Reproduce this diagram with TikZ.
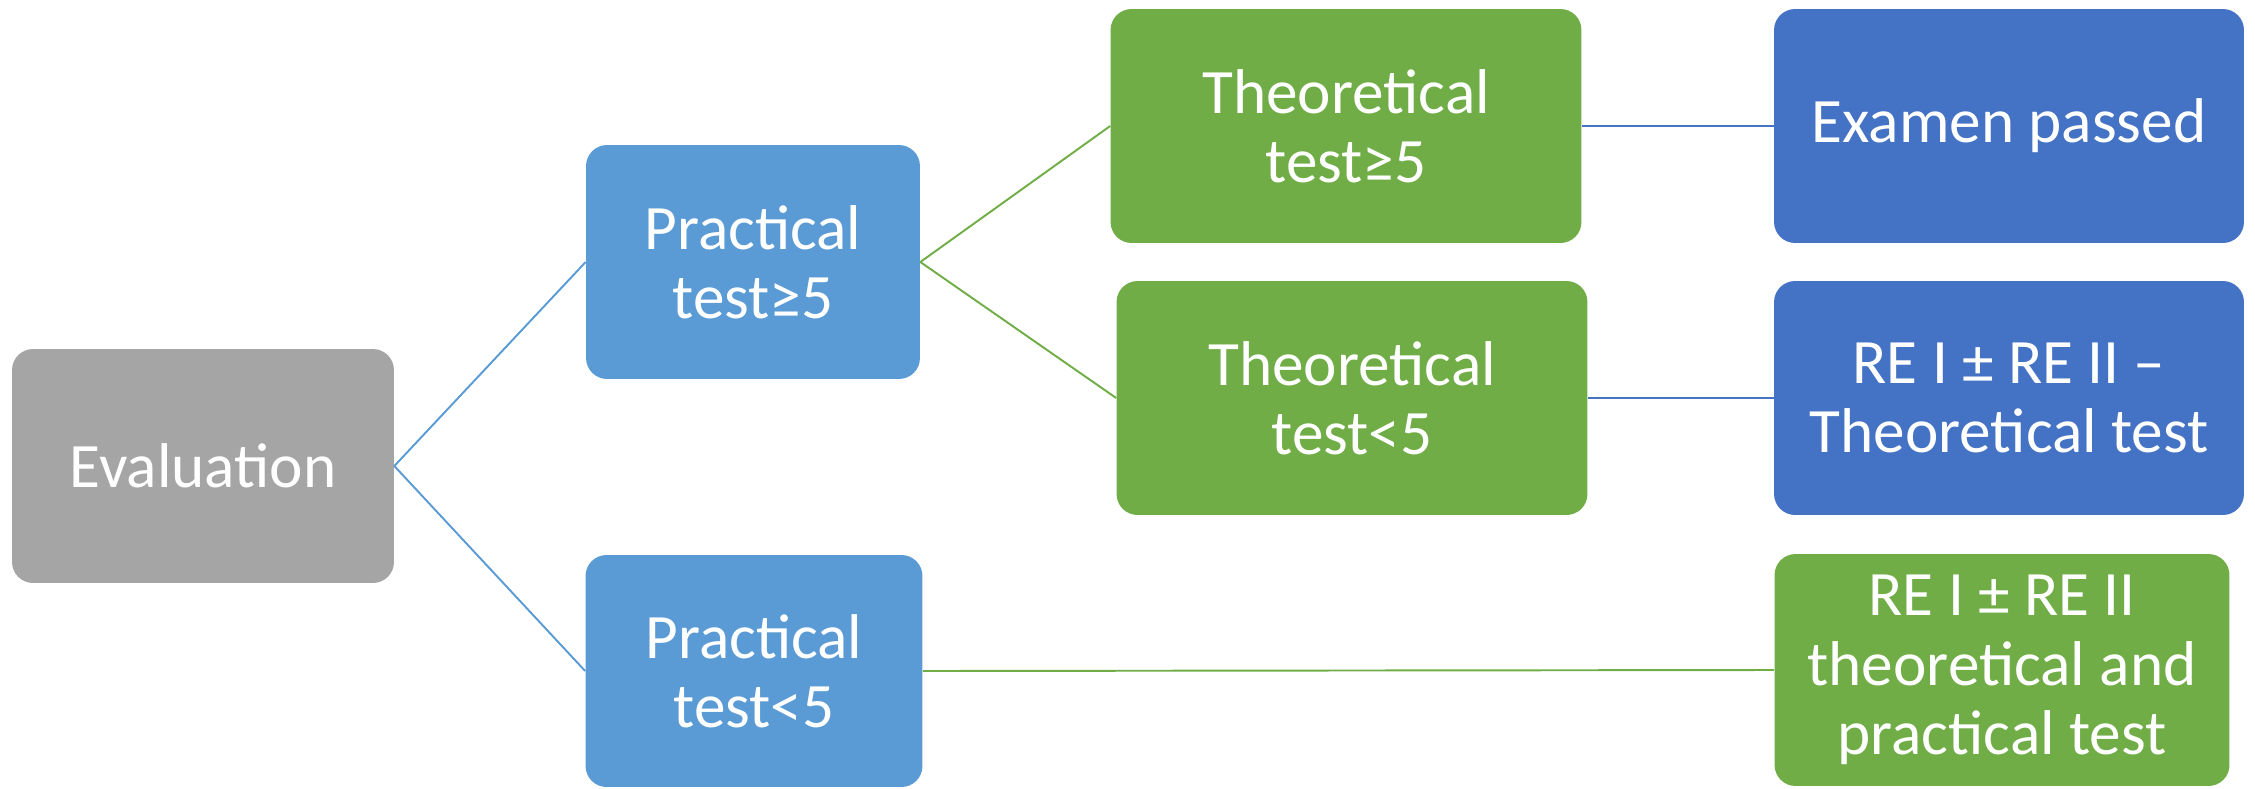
\documentclass[tikz,border=0pt]{standalone}
\usepackage{fontspec}
\setmainfont{Carlito}
\definecolor{evalgray}{HTML}{A5A5A5}
\definecolor{lightblue}{HTML}{5B9BD5}
\definecolor{leafgreen}{HTML}{70AD47}
\definecolor{darkblue}{HTML}{4472C4}
\tikzset{
  box/.style={rounded corners=0.42cm, text=white, align=center, inner sep=0pt,
    minimum height=4.68cm, font=\fontsize{36}{39.5}\selectfont},
  link/.style={line width=1.1pt}
}
\begin{document}
\begin{tikzpicture}[x=0.02cm,y=-0.02cm]
\useasboundingbox (0,0) rectangle (2255,788);
\node[box, fill=evalgray, minimum width=7.64cm] (eval) at (203,466) {Evaluation};
\node[box, fill=lightblue, minimum width=6.68cm] (prachi) at (753,262) {Practical\\test≥5};
\node[box, fill=lightblue, minimum width=6.74cm, minimum height=4.64cm] (praclo) at (754,671) {Practical\\test<5};
\node[box, fill=leafgreen, minimum width=9.42cm] (theohi) at (1346,126) {Theoretical\\test≥5};
\node[box, fill=leafgreen, minimum width=9.42cm] (theolo) at (1352,398) {Theoretical\\test<5};
\node[box, fill=darkblue, minimum width=9.4cm] (passed) at (2009,126) {Examen passed};
\node[box, fill=darkblue, minimum width=9.4cm] (retheo) at (2009,398) {RE I ± RE II –\\Theoretical test};
\node[box, fill=leafgreen, minimum width=9.1cm, minimum height=4.64cm] (reboth) at (2002,670) {RE I ± RE II\\theoretical and\\practical test};
\draw[link, lightblue] (eval.east) -- (prachi.west);
\draw[link, lightblue] (eval.east) -- (praclo.west);
\draw[link, leafgreen] (prachi.east) -- (theohi.west);
\draw[link, leafgreen] (prachi.east) -- (theolo.west);
\draw[link, darkblue] (theohi.east) -- (passed.west);
\draw[link, darkblue] (theolo.east) -- (retheo.west);
\draw[link, leafgreen] (praclo.east) -- (reboth.west);
\end{tikzpicture}
\end{document}
